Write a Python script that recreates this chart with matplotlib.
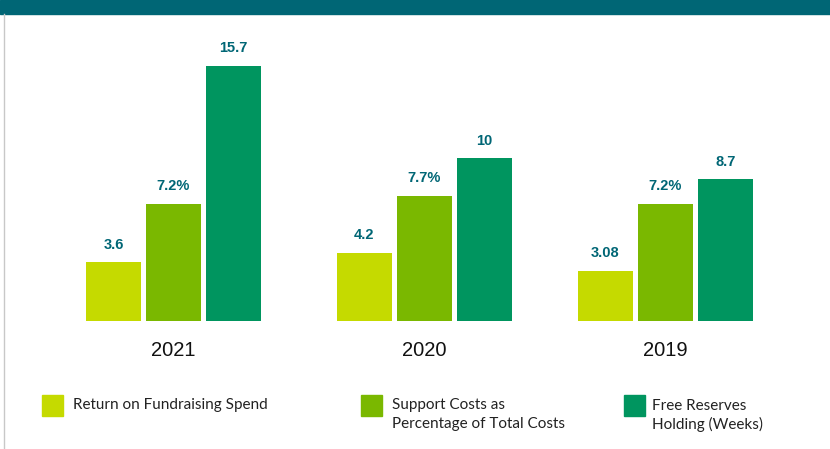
import matplotlib
matplotlib.use("Agg")
import matplotlib.pyplot as plt
from matplotlib.patches import Rectangle
from matplotlib.lines import Line2D

years = ["2021", "2020", "2019"]
series_names = ["Return on Fundraising Spend",
                "Support Costs as\nPercentage of Total Costs",
                "Free Reserves\nHolding (Weeks)"]
return_on_fundraising = [3.6, 4.2, 3.08]
support_costs_pct = [7.2, 7.7, 7.2]
free_reserves_weeks = [15.7, 10, 8.7]
label_suffix = ["", "%", ""]

colors = ["#C5DA00", "#7AB800", "#00955F"]
label_color = "#006675"

W, H = 830, 449
fig = plt.figure(figsize=(W / 100, H / 100), dpi=100)

# top band and left border
fig.patches.append(Rectangle((0, 1 - 14 / H), 1, 14 / H, transform=fig.transFigure,
                             color="#006675", zorder=0))
fig.lines.append(Line2D([4 / W, 4 / W], [0, 1 - 14 / H], transform=fig.transFigure,
                        color="#c8c8c8", lw=1))

# axes: baseline at pixel 321, 16.27 px per unit
px_per_unit = 16.27
base_px = 321
top_px = 20
ax = fig.add_axes([0, (H - base_px) / H, 1, (base_px - top_px) / H])
ax.set_ylim(0, (base_px - top_px) / px_per_unit)
spacing_px = 246.0
c0 = 173.5
ax.set_xlim(-c0 / spacing_px, (W - c0) / spacing_px)
ax.axis("off")

group_pos = [0, 1.02, 2]
bw = 55 / spacing_px
step = 60 / spacing_px
series = [return_on_fundraising, support_costs_pct, free_reserves_weeks]

for si, vals in enumerate(series):
    for gi, v in enumerate(vals):
        x = group_pos[gi] + (si - 1) * step
        ax.bar(x, v, width=bw, color=colors[si], linewidth=0)
        txt = f"{v:g}" + label_suffix[si]
        ax.annotate(txt, (x, v), xytext=(0, 7.5), textcoords="offset points",
                    ha="center", va="bottom", color=label_color,
                    fontsize=10.5, fontweight="bold", family="Liberation Sans")

for gi, y in enumerate(years):
    ax.annotate(y, (group_pos[gi], 0), xytext=(0, -21), textcoords="offset points",
                ha="center", va="center", fontsize=14.5, color="#111111",
                family="Liberation Sans", annotation_clip=False)

# legend
leg_sq_x = [42, 361, 624]
leg_tx_x = [73, 392, 652]
for i, name in enumerate(series_names):
    fig.patches.append(Rectangle((leg_sq_x[i] / W, 1 - 416 / H), 21 / W, 21 / H,
                                 transform=fig.transFigure, color=colors[i]))
    fig.text(leg_tx_x[i] / W, 1 - 398.5 / H, name, ha="left", va="top",
             fontsize=11, color="#222222", family="Lato", linespacing=1.4)

fig.savefig("out.png", dpi=100)
